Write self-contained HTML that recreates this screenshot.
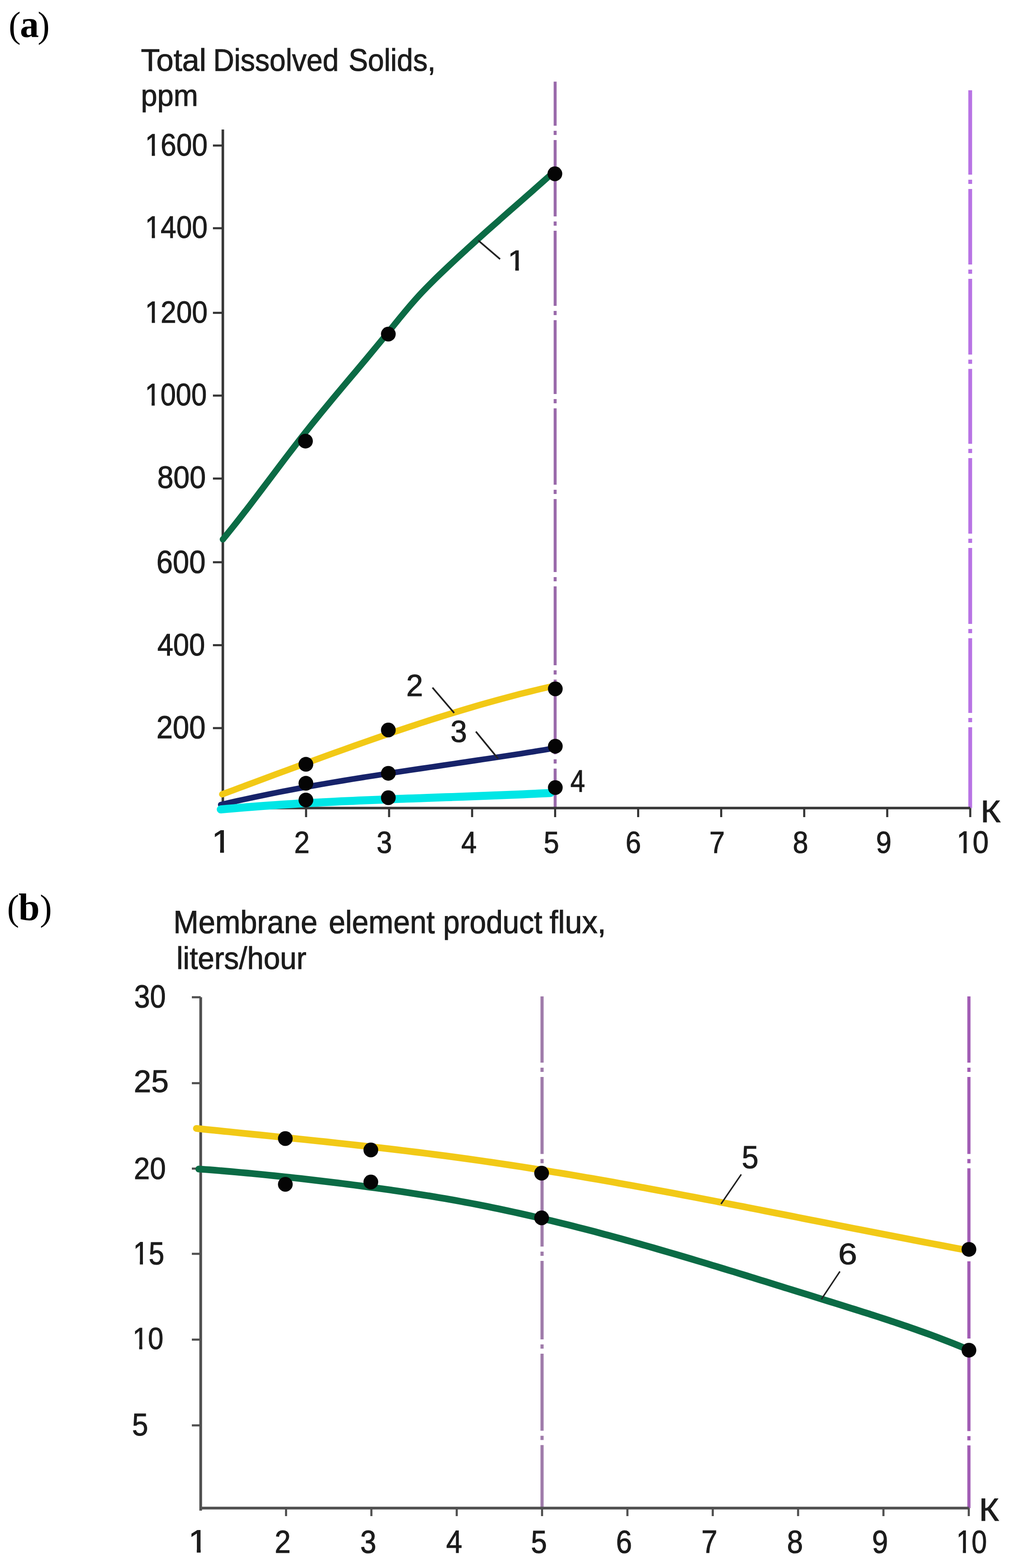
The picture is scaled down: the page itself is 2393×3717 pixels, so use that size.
<!DOCTYPE html>
<html><head><meta charset="utf-8"><title>Figure</title>
<style>html,body{margin:0;padding:0;background:#fff;} svg{display:block;}</style>
</head><body>
<svg width="2393" height="3717" viewBox="0 0 2393 3717">
<rect width="2393" height="3717" fill="#ffffff"/>
<text font-family='"Liberation Serif", "Times New Roman", serif' fill="#000"><tspan x="20.46" y="87.54" font-size="86.00" font-weight="normal">(</tspan><tspan x="47.20" y="88.10" font-size="90.00" font-weight="bold">a</tspan><tspan x="89.32" y="87.54" font-size="86.00" font-weight="normal">)</tspan></text>
<g transform="translate(334.13,168.20) scale(0.9815,1)"><text font-family='"Liberation Sans", Arial, sans-serif' font-weight="normal" font-size="74.78" fill="#1c1c1c" stroke="#1c1c1c" stroke-width="1.2">Total</text></g>
<g transform="translate(505.71,168.20) scale(0.9185,1)"><text font-family='"Liberation Sans", Arial, sans-serif' font-weight="normal" font-size="74.78" fill="#1c1c1c" stroke="#1c1c1c" stroke-width="1.2">Dissolved</text></g>
<g transform="translate(826.66,168.20) scale(0.9201,1)"><text font-family='"Liberation Sans", Arial, sans-serif' font-weight="normal" font-size="74.78" fill="#1c1c1c" stroke="#1c1c1c" stroke-width="1.2">Solids,</text></g>
<g transform="translate(334.33,251.00) scale(0.9702,1)"><text font-family='"Liberation Sans", Arial, sans-serif' font-weight="normal" font-size="71.70" fill="#1c1c1c" stroke="#1c1c1c" stroke-width="1.2">ppm</text></g>
<rect x="1313.1" y="193.5" width="7" height="104.5" fill="#9a6aab"/>
<rect x="1313.1" y="310.0" width="7" height="10.0" fill="#9a6aab"/>
<rect x="1313.1" y="332.0" width="7" height="181.0" fill="#9a6aab"/>
<rect x="1313.1" y="525.0" width="7" height="10.0" fill="#9a6aab"/>
<rect x="1313.1" y="547.0" width="7" height="178.0" fill="#9a6aab"/>
<rect x="1313.1" y="737.0" width="7" height="10.0" fill="#9a6aab"/>
<rect x="1313.1" y="759.0" width="7" height="175.0" fill="#9a6aab"/>
<rect x="1313.1" y="946.0" width="7" height="10.0" fill="#9a6aab"/>
<rect x="1313.1" y="968.0" width="7" height="181.0" fill="#9a6aab"/>
<rect x="1313.1" y="1161.0" width="7" height="10.0" fill="#9a6aab"/>
<rect x="1313.1" y="1183.0" width="7" height="173.0" fill="#9a6aab"/>
<rect x="1313.1" y="1368.0" width="7" height="10.0" fill="#9a6aab"/>
<rect x="1313.1" y="1390.0" width="7" height="187.0" fill="#9a6aab"/>
<rect x="1313.1" y="1589.0" width="7" height="10.0" fill="#9a6aab"/>
<rect x="1313.1" y="1611.0" width="7" height="177.0" fill="#9a6aab"/>
<rect x="1313.1" y="1800.0" width="7" height="10.0" fill="#9a6aab"/>
<rect x="1313.1" y="1822.0" width="7" height="93.5" fill="#9a6aab"/>
<rect x="2296.5" y="214.0" width="9" height="200.0" fill="#b873e4"/>
<rect x="2296.5" y="426.0" width="9" height="10.0" fill="#b873e4"/>
<rect x="2296.5" y="448.0" width="9" height="179.0" fill="#b873e4"/>
<rect x="2296.5" y="639.0" width="9" height="10.0" fill="#b873e4"/>
<rect x="2296.5" y="661.0" width="9" height="179.5" fill="#b873e4"/>
<rect x="2296.5" y="852.5" width="9" height="10.0" fill="#b873e4"/>
<rect x="2296.5" y="874.5" width="9" height="177.5" fill="#b873e4"/>
<rect x="2296.5" y="1064.0" width="9" height="10.0" fill="#b873e4"/>
<rect x="2296.5" y="1086.0" width="9" height="179.0" fill="#b873e4"/>
<rect x="2296.5" y="1277.0" width="9" height="10.0" fill="#b873e4"/>
<rect x="2296.5" y="1299.0" width="9" height="180.0" fill="#b873e4"/>
<rect x="2296.5" y="1491.0" width="9" height="10.0" fill="#b873e4"/>
<rect x="2296.5" y="1513.0" width="9" height="177.0" fill="#b873e4"/>
<rect x="2296.5" y="1702.0" width="9" height="10.0" fill="#b873e4"/>
<rect x="2296.5" y="1724.0" width="9" height="191.5" fill="#b873e4"/>
<line x1="528.5" y1="307" x2="528.5" y2="1918.5" stroke="#363636" stroke-width="6"/>
<line x1="525.5" y1="1915.5" x2="2301" y2="1915.5" stroke="#363636" stroke-width="6"/>
<line x1="505" y1="345" x2="528.5" y2="345" stroke="#363636" stroke-width="5"/>
<line x1="505" y1="541" x2="528.5" y2="541" stroke="#363636" stroke-width="5"/>
<line x1="505" y1="741.6" x2="528.5" y2="741.6" stroke="#363636" stroke-width="5"/>
<line x1="505" y1="937.8" x2="528.5" y2="937.8" stroke="#363636" stroke-width="5"/>
<line x1="505" y1="1134.4" x2="528.5" y2="1134.4" stroke="#363636" stroke-width="5"/>
<line x1="505" y1="1332.8" x2="528.5" y2="1332.8" stroke="#363636" stroke-width="5"/>
<line x1="505" y1="1529.4" x2="528.5" y2="1529.4" stroke="#363636" stroke-width="5"/>
<line x1="505" y1="1726" x2="528.5" y2="1726" stroke="#363636" stroke-width="5"/>
<g transform="translate(344.03,369.00) scale(0.8972,1)"><text font-family='"Liberation Sans", Arial, sans-serif' font-weight="normal" font-size="74.29" fill="#1c1c1c" stroke="#1c1c1c" stroke-width="1.2">1600</text><rect x="3.70" y="-7.94" width="14.05" height="9.74" fill="#fff"/><rect x="26.08" y="-7.94" width="13.45" height="9.74" fill="#fff"/></g>
<g transform="translate(344.03,564.30) scale(0.9095,1)"><text font-family='"Liberation Sans", Arial, sans-serif' font-weight="normal" font-size="73.29" fill="#1c1c1c" stroke="#1c1c1c" stroke-width="1.2">1400</text><rect x="3.63" y="-7.86" width="13.86" height="9.66" fill="#fff"/><rect x="25.74" y="-7.86" width="13.28" height="9.66" fill="#fff"/></g>
<g transform="translate(344.03,765.00) scale(0.9202,1)"><text font-family='"Liberation Sans", Arial, sans-serif' font-weight="normal" font-size="72.43" fill="#1c1c1c" stroke="#1c1c1c" stroke-width="1.2">1200</text><rect x="3.57" y="-7.79" width="13.71" height="9.59" fill="#fff"/><rect x="25.45" y="-7.79" width="13.13" height="9.59" fill="#fff"/></g>
<g transform="translate(343.82,960.50) scale(0.8880,1)"><text font-family='"Liberation Sans", Arial, sans-serif' font-weight="normal" font-size="74.14" fill="#1c1c1c" stroke="#1c1c1c" stroke-width="1.2">1000</text><rect x="3.69" y="-7.93" width="14.02" height="9.73" fill="#fff"/><rect x="26.03" y="-7.93" width="13.43" height="9.73" fill="#fff"/></g>
<g transform="translate(372.94,1156.60) scale(0.9314,1)"><text font-family='"Liberation Sans", Arial, sans-serif' font-weight="normal" font-size="74.14" fill="#1c1c1c" stroke="#1c1c1c" stroke-width="1.2">800</text></g>
<g transform="translate(371.01,1358.00) scale(0.9264,1)"><text font-family='"Liberation Sans", Arial, sans-serif' font-weight="normal" font-size="75.43" fill="#1c1c1c" stroke="#1c1c1c" stroke-width="1.2">600</text></g>
<g transform="translate(373.14,1553.50) scale(0.9183,1)"><text font-family='"Liberation Sans", Arial, sans-serif' font-weight="normal" font-size="73.86" fill="#1c1c1c" stroke="#1c1c1c" stroke-width="1.2">400</text></g>
<g transform="translate(371.01,1750.00) scale(0.9264,1)"><text font-family='"Liberation Sans", Arial, sans-serif' font-weight="normal" font-size="75.43" fill="#1c1c1c" stroke="#1c1c1c" stroke-width="1.2">200</text></g>
<line x1="725.9" y1="1915.5" x2="725.9" y2="1937" stroke="#363636" stroke-width="5"/>
<line x1="922.8" y1="1915.5" x2="922.8" y2="1937" stroke="#363636" stroke-width="5"/>
<line x1="1119.7" y1="1915.5" x2="1119.7" y2="1937" stroke="#363636" stroke-width="5"/>
<line x1="1316.6" y1="1915.5" x2="1316.6" y2="1937" stroke="#363636" stroke-width="5"/>
<line x1="1513.5" y1="1915.5" x2="1513.5" y2="1937" stroke="#363636" stroke-width="5"/>
<line x1="1710.4" y1="1915.5" x2="1710.4" y2="1937" stroke="#363636" stroke-width="5"/>
<line x1="1907.3" y1="1915.5" x2="1907.3" y2="1937" stroke="#363636" stroke-width="5"/>
<line x1="2104.2" y1="1915.5" x2="2104.2" y2="1937" stroke="#363636" stroke-width="5"/>
<line x1="2301.1000000000004" y1="1915.5" x2="2301.1000000000004" y2="1937" stroke="#363636" stroke-width="5"/>
<g transform="translate(502.22,2021.30) scale(1.0800,1)"><text font-family='"Liberation Sans", Arial, sans-serif' font-weight="normal" font-size="76.52" fill="#1c1c1c" stroke="#1c1c1c" stroke-width="1.2">1</text><rect x="3.86" y="-8.12" width="14.45" height="9.92" fill="#fff"/><rect x="26.84" y="-8.12" width="13.84" height="9.92" fill="#fff"/></g>
<g transform="translate(697.72,2021.50) scale(0.9000,1)"><text font-family='"Liberation Sans", Arial, sans-serif' font-weight="normal" font-size="72.86" fill="#1c1c1c" stroke="#1c1c1c" stroke-width="1.2">2</text></g>
<g transform="translate(893.18,2021.50) scale(0.9000,1)"><text font-family='"Liberation Sans", Arial, sans-serif' font-weight="normal" font-size="72.86" fill="#1c1c1c" stroke="#1c1c1c" stroke-width="1.2">3</text></g>
<g transform="translate(1094.09,2021.50) scale(0.9000,1)"><text font-family='"Liberation Sans", Arial, sans-serif' font-weight="normal" font-size="72.86" fill="#1c1c1c" stroke="#1c1c1c" stroke-width="1.2">4</text></g>
<g transform="translate(1289.38,2021.50) scale(0.9000,1)"><text font-family='"Liberation Sans", Arial, sans-serif' font-weight="normal" font-size="72.86" fill="#1c1c1c" stroke="#1c1c1c" stroke-width="1.2">5</text></g>
<g transform="translate(1483.72,2021.50) scale(0.9000,1)"><text font-family='"Liberation Sans", Arial, sans-serif' font-weight="normal" font-size="72.86" fill="#1c1c1c" stroke="#1c1c1c" stroke-width="1.2">6</text></g>
<g transform="translate(1682.62,2021.50) scale(0.9000,1)"><text font-family='"Liberation Sans", Arial, sans-serif' font-weight="normal" font-size="72.86" fill="#1c1c1c" stroke="#1c1c1c" stroke-width="1.2">7</text></g>
<g transform="translate(1880.18,2021.50) scale(0.9000,1)"><text font-family='"Liberation Sans", Arial, sans-serif' font-weight="normal" font-size="72.86" fill="#1c1c1c" stroke="#1c1c1c" stroke-width="1.2">8</text></g>
<g transform="translate(2077.72,2021.50) scale(0.9000,1)"><text font-family='"Liberation Sans", Arial, sans-serif' font-weight="normal" font-size="72.86" fill="#1c1c1c" stroke="#1c1c1c" stroke-width="1.2">9</text></g>
<g transform="translate(2268.66,2021.50) scale(0.9203,1)"><text font-family='"Liberation Sans", Arial, sans-serif' font-weight="normal" font-size="74.29" fill="#1c1c1c" stroke="#1c1c1c" stroke-width="1.2">10</text><rect x="3.70" y="-7.94" width="14.05" height="9.74" fill="#fff"/><rect x="26.08" y="-7.94" width="13.45" height="9.74" fill="#fff"/></g>
<g transform="translate(2325.47,1948.50) scale(1.0937,1)"><text font-family='"Liberation Sans", Arial, sans-serif' font-weight="normal" font-size="74.64" fill="#1c1c1c" stroke="#1c1c1c" stroke-width="1.2">К</text></g>
<path d="M528.6,1278.6 C533.0,1273.2 546.1,1257.2 554.8,1246.2 C563.6,1235.2 572.3,1224.0 581.0,1212.7 C589.8,1201.4 598.5,1189.9 607.2,1178.4 C616.0,1166.9 624.7,1155.3 633.5,1143.8 C642.2,1132.2 650.9,1120.6 659.7,1109.0 C668.4,1097.5 677.1,1085.9 685.9,1074.5 C694.6,1063.1 703.4,1051.7 712.1,1040.5 C720.8,1029.4 729.6,1018.3 738.3,1007.4 C747.0,996.5 755.8,985.8 764.5,975.2 C773.3,964.5 782.0,954.0 790.7,943.5 C799.5,933.0 808.2,922.6 816.9,912.2 C825.7,901.8 834.4,891.5 843.2,881.1 C851.9,870.7 860.6,860.3 869.4,849.9 C878.1,839.4 886.8,828.9 895.6,818.3 C904.3,807.8 913.1,797.0 921.8,786.3 C930.5,775.6 939.3,764.5 948.0,753.9 C956.8,743.3 965.5,732.7 974.2,722.6 C983.0,712.5 991.7,702.7 1000.4,693.4 C1009.2,684.0 1017.9,675.3 1026.7,666.6 C1035.4,657.9 1044.1,649.6 1052.9,641.3 C1061.6,633.0 1070.3,624.8 1079.1,616.6 C1087.8,608.5 1096.6,600.4 1105.3,592.4 C1114.0,584.4 1122.8,576.5 1131.5,568.6 C1140.2,560.8 1149.0,553.0 1157.7,545.2 C1166.5,537.4 1175.2,529.7 1183.9,522.0 C1192.7,514.2 1201.4,506.6 1210.1,498.9 C1218.9,491.2 1227.6,483.5 1236.4,475.9 C1245.1,468.2 1253.8,460.5 1262.6,452.8 C1271.3,445.1 1280.0,437.4 1288.8,429.7 C1297.5,421.9 1310.6,410.2 1315.0,406.3" fill="none" stroke="#0b6b45" stroke-width="15" stroke-linecap="round" stroke-linejoin="round"/>
<path d="M527.0,1882.9 C531.4,1881.2 544.4,1876.4 553.1,1873.2 C561.8,1869.9 570.5,1866.7 579.2,1863.4 C587.9,1860.2 596.6,1857.0 605.3,1853.7 C614.0,1850.5 622.7,1847.3 631.4,1844.0 C640.1,1840.8 648.8,1837.6 657.5,1834.3 C666.2,1831.1 674.9,1827.9 683.6,1824.7 C692.3,1821.5 701.0,1818.3 709.7,1815.1 C718.4,1811.9 727.1,1808.7 735.8,1805.5 C744.5,1802.3 753.2,1799.1 761.9,1796.0 C770.6,1792.8 779.3,1789.7 788.0,1786.5 C796.7,1783.4 805.4,1780.3 814.1,1777.2 C822.8,1774.1 831.5,1771.0 840.2,1767.9 C848.9,1764.8 857.6,1761.7 866.3,1758.7 C875.0,1755.6 883.7,1752.6 892.4,1749.6 C901.1,1746.6 909.8,1743.6 918.5,1740.6 C927.2,1737.7 935.9,1734.7 944.6,1731.8 C953.3,1728.9 962.0,1726.0 970.7,1723.1 C979.4,1720.2 988.1,1717.4 996.8,1714.5 C1005.5,1711.7 1014.2,1708.9 1022.9,1706.1 C1031.6,1703.4 1040.3,1700.6 1049.0,1697.9 C1057.7,1695.2 1066.4,1692.5 1075.1,1689.8 C1083.8,1687.2 1092.5,1684.6 1101.2,1682.0 C1109.9,1679.4 1118.6,1676.8 1127.3,1674.3 C1136.0,1671.7 1144.7,1669.2 1153.4,1666.8 C1162.1,1664.3 1170.8,1661.9 1179.5,1659.5 C1188.2,1657.1 1196.9,1654.8 1205.6,1652.5 C1214.3,1650.2 1223.0,1647.9 1231.7,1645.6 C1240.4,1643.4 1249.1,1641.2 1257.8,1639.1 C1266.5,1636.9 1275.2,1634.8 1283.9,1632.7 C1292.6,1630.7 1305.7,1627.7 1310.0,1626.7" fill="none" stroke="#f2c916" stroke-width="15" stroke-linecap="round" stroke-linejoin="round"/>
<path d="M523.6,1907.6 C528.0,1906.5 541.2,1903.4 550.0,1901.4 C558.8,1899.4 567.6,1897.5 576.4,1895.5 C585.2,1893.6 594.0,1891.7 602.8,1889.8 C611.6,1888.0 620.4,1886.1 629.3,1884.3 C638.1,1882.5 646.9,1880.8 655.7,1879.0 C664.5,1877.3 673.3,1875.6 682.1,1873.9 C690.9,1872.2 699.7,1870.6 708.5,1868.9 C717.3,1867.3 726.1,1865.7 734.9,1864.1 C743.7,1862.5 752.5,1861.0 761.3,1859.4 C770.1,1857.9 778.9,1856.4 787.7,1854.9 C796.5,1853.4 805.3,1851.9 814.1,1850.5 C823.0,1849.0 831.8,1847.6 840.6,1846.1 C849.4,1844.7 858.2,1843.3 867.0,1841.9 C875.8,1840.5 884.6,1839.1 893.4,1837.8 C902.2,1836.4 911.0,1835.0 919.8,1833.7 C928.6,1832.3 937.4,1831.0 946.2,1829.7 C955.0,1828.3 963.8,1827.0 972.6,1825.7 C981.4,1824.4 990.2,1823.1 999.0,1821.8 C1007.8,1820.5 1016.6,1819.2 1025.5,1817.9 C1034.3,1816.6 1043.1,1815.3 1051.9,1814.0 C1060.7,1812.7 1069.5,1811.4 1078.3,1810.1 C1087.1,1808.8 1095.9,1807.5 1104.7,1806.2 C1113.5,1804.9 1122.3,1803.6 1131.1,1802.3 C1139.9,1801.0 1148.7,1799.7 1157.5,1798.4 C1166.3,1797.1 1175.1,1795.7 1183.9,1794.4 C1192.7,1793.1 1201.5,1791.7 1210.3,1790.4 C1219.2,1789.0 1228.0,1787.6 1236.8,1786.3 C1245.6,1784.9 1254.4,1783.5 1263.2,1782.1 C1272.0,1780.7 1280.8,1779.2 1289.6,1777.8 C1298.4,1776.4 1311.6,1774.2 1316.0,1773.4" fill="none" stroke="#17236a" stroke-width="13.5" stroke-linecap="round" stroke-linejoin="round"/>
<path d="M523.6,1918.8 C527.9,1918.4 541.0,1917.2 549.7,1916.5 C558.4,1915.7 567.1,1915.0 575.8,1914.3 C584.5,1913.6 593.1,1912.9 601.8,1912.2 C610.5,1911.5 619.2,1910.9 627.9,1910.3 C636.6,1909.6 645.3,1909.0 654.0,1908.4 C662.7,1907.8 671.4,1907.3 680.1,1906.7 C688.8,1906.2 697.5,1905.6 706.2,1905.1 C714.9,1904.6 723.5,1904.1 732.2,1903.6 C740.9,1903.1 749.6,1902.7 758.3,1902.2 C767.0,1901.7 775.7,1901.3 784.4,1900.9 C793.1,1900.4 801.8,1900.0 810.5,1899.6 C819.2,1899.2 827.9,1898.8 836.6,1898.4 C845.3,1898.0 853.9,1897.6 862.6,1897.3 C871.3,1896.9 880.0,1896.5 888.7,1896.2 C897.4,1895.8 906.1,1895.5 914.8,1895.1 C923.5,1894.8 932.2,1894.5 940.9,1894.1 C949.6,1893.8 958.3,1893.5 967.0,1893.1 C975.7,1892.8 984.3,1892.5 993.0,1892.2 C1001.7,1891.9 1010.4,1891.6 1019.1,1891.3 C1027.8,1890.9 1036.5,1890.6 1045.2,1890.3 C1053.9,1890.0 1062.6,1889.7 1071.3,1889.4 C1080.0,1889.1 1088.7,1888.8 1097.4,1888.5 C1106.1,1888.2 1114.7,1887.8 1123.4,1887.5 C1132.1,1887.2 1140.8,1886.9 1149.5,1886.5 C1158.2,1886.2 1166.9,1885.9 1175.6,1885.5 C1184.3,1885.2 1193.0,1884.9 1201.7,1884.5 C1210.4,1884.2 1219.1,1883.8 1227.8,1883.4 C1236.5,1883.1 1245.1,1882.7 1253.8,1882.3 C1262.5,1881.9 1271.2,1881.5 1279.9,1881.1 C1288.6,1880.7 1301.7,1880.1 1306.0,1879.8" fill="none" stroke="#00e6e6" stroke-width="19" stroke-linecap="round" stroke-linejoin="round"/>
<circle cx="724.5" cy="1045.7" r="17.5" fill="#050505"/>
<circle cx="921" cy="792" r="17.5" fill="#050505"/>
<circle cx="1316" cy="412" r="17.5" fill="#050505"/>
<circle cx="725.5" cy="1811.8" r="17.5" fill="#050505"/>
<circle cx="921" cy="1730.5" r="17.5" fill="#050505"/>
<circle cx="1317" cy="1633" r="17.5" fill="#050505"/>
<circle cx="725.5" cy="1856.8" r="17.5" fill="#050505"/>
<circle cx="921" cy="1833.2" r="17.5" fill="#050505"/>
<circle cx="1317" cy="1769" r="17.5" fill="#050505"/>
<circle cx="725.5" cy="1896.4" r="17.5" fill="#050505"/>
<circle cx="921" cy="1891" r="17.5" fill="#050505"/>
<circle cx="1317" cy="1867" r="17.5" fill="#050505"/>
<line x1="1134.3" y1="570" x2="1186" y2="614.3" stroke="#222" stroke-width="4"/>
<g transform="translate(1204.27,640.60) scale(1.0800,1)"><text font-family='"Liberation Sans", Arial, sans-serif' font-weight="normal" font-size="69.13" fill="#1c1c1c" stroke="#1c1c1c" stroke-width="1.2">1</text><rect x="3.34" y="-7.53" width="13.11" height="9.33" fill="#fff"/><rect x="24.34" y="-7.53" width="12.56" height="9.33" fill="#fff"/></g>
<line x1="1025.7" y1="1630" x2="1077.1" y2="1690" stroke="#222" stroke-width="4"/>
<g transform="translate(963.52,1650.00) scale(1.0013,1)"><text font-family='"Liberation Sans", Arial, sans-serif' font-weight="normal" font-size="71.43" fill="#1c1c1c" stroke="#1c1c1c" stroke-width="1.2">2</text></g>
<line x1="1128.6" y1="1734.3" x2="1181.4" y2="1798.6" stroke="#222" stroke-width="4"/>
<g transform="translate(1068.60,1758.60) scale(0.9800,1)"><text font-family='"Liberation Sans", Arial, sans-serif' font-weight="normal" font-size="71.43" fill="#1c1c1c" stroke="#1c1c1c" stroke-width="1.2">3</text></g>
<g transform="translate(1352.75,1876.90) scale(0.8539,1)"><text font-family='"Liberation Sans", Arial, sans-serif' font-weight="normal" font-size="73.48" fill="#1c1c1c" stroke="#1c1c1c" stroke-width="1.2">4</text></g>
<text font-family='"Liberation Serif", "Times New Roman", serif' fill="#000"><tspan x="16.86" y="2180.64" font-size="86.00" font-weight="normal">(</tspan><tspan x="43.79" y="2181.19" font-size="90.57" font-weight="bold">b</tspan><tspan x="94.52" y="2180.64" font-size="86.00" font-weight="normal">)</tspan></text>
<g transform="translate(411.18,2212.30) scale(0.9506,1)"><text font-family='"Liberation Sans", Arial, sans-serif' font-weight="normal" font-size="75.22" fill="#1c1c1c" stroke="#1c1c1c" stroke-width="1.2">Membrane</text></g>
<g transform="translate(779.77,2212.30) scale(0.9393,1)"><text font-family='"Liberation Sans", Arial, sans-serif' font-weight="normal" font-size="75.22" fill="#1c1c1c" stroke="#1c1c1c" stroke-width="1.2">element</text></g>
<g transform="translate(1051.07,2212.30) scale(0.9367,1)"><text font-family='"Liberation Sans", Arial, sans-serif' font-weight="normal" font-size="75.22" fill="#1c1c1c" stroke="#1c1c1c" stroke-width="1.2">product</text></g>
<g transform="translate(1303.17,2212.30) scale(0.9727,1)"><text font-family='"Liberation Sans", Arial, sans-serif' font-weight="normal" font-size="75.22" fill="#1c1c1c" stroke="#1c1c1c" stroke-width="1.2">flux,</text></g>
<g transform="translate(418.49,2296.80) scale(0.9536,1)"><text font-family='"Liberation Sans", Arial, sans-serif' font-weight="normal" font-size="73.62" fill="#1c1c1c" stroke="#1c1c1c" stroke-width="1.2">liters/hour</text></g>
<rect x="1281.8" y="2362.0" width="7.5" height="157.0" fill="#a07cab"/>
<rect x="1281.8" y="2531.0" width="7.5" height="10.0" fill="#a07cab"/>
<rect x="1281.8" y="2553.0" width="7.5" height="182.5" fill="#a07cab"/>
<rect x="1281.8" y="2747.5" width="7.5" height="10.0" fill="#a07cab"/>
<rect x="1281.8" y="2769.5" width="7.5" height="185.5" fill="#a07cab"/>
<rect x="1281.8" y="2967.0" width="7.5" height="10.0" fill="#a07cab"/>
<rect x="1281.8" y="2989.0" width="7.5" height="186.0" fill="#a07cab"/>
<rect x="1281.8" y="3187.0" width="7.5" height="10.0" fill="#a07cab"/>
<rect x="1281.8" y="3209.0" width="7.5" height="182.6" fill="#a07cab"/>
<rect x="1281.8" y="3403.6" width="7.5" height="10.0" fill="#a07cab"/>
<rect x="1281.8" y="3425.6" width="7.5" height="149.4" fill="#a07cab"/>
<rect x="2294.2" y="2362.0" width="7.5" height="157.0" fill="#a15cb4"/>
<rect x="2294.2" y="2531.0" width="7.5" height="10.0" fill="#a15cb4"/>
<rect x="2294.2" y="2553.0" width="7.5" height="182.5" fill="#a15cb4"/>
<rect x="2294.2" y="2747.5" width="7.5" height="10.0" fill="#a15cb4"/>
<rect x="2294.2" y="2769.5" width="7.5" height="186.5" fill="#a15cb4"/>
<rect x="2294.2" y="2968.0" width="7.5" height="10.0" fill="#a15cb4"/>
<rect x="2294.2" y="2990.0" width="7.5" height="183.0" fill="#a15cb4"/>
<rect x="2294.2" y="3185.0" width="7.5" height="10.0" fill="#a15cb4"/>
<rect x="2294.2" y="3207.0" width="7.5" height="185.4" fill="#a15cb4"/>
<rect x="2294.2" y="3404.4" width="7.5" height="10.0" fill="#a15cb4"/>
<rect x="2294.2" y="3426.4" width="7.5" height="148.6" fill="#a15cb4"/>
<line x1="476" y1="2364" x2="476" y2="3581" stroke="#505050" stroke-width="6.5"/>
<line x1="473" y1="3575" x2="2298" y2="3575" stroke="#505050" stroke-width="6.5"/>
<line x1="455" y1="2364" x2="476" y2="2364" stroke="#505050" stroke-width="5"/>
<line x1="455" y1="2567.7" x2="476" y2="2567.7" stroke="#505050" stroke-width="5"/>
<line x1="455" y1="2770.2" x2="476" y2="2770.2" stroke="#505050" stroke-width="5"/>
<line x1="455" y1="2972.2" x2="476" y2="2972.2" stroke="#505050" stroke-width="5"/>
<line x1="455" y1="3175.6" x2="476" y2="3175.6" stroke="#505050" stroke-width="5"/>
<line x1="455" y1="3378.9" x2="476" y2="3378.9" stroke="#505050" stroke-width="5"/>
<g transform="translate(318.31,2388.40) scale(0.8957,1)"><text font-family='"Liberation Sans", Arial, sans-serif' font-weight="normal" font-size="75.14" fill="#1c1c1c" stroke="#1c1c1c" stroke-width="1.2">30</text></g>
<g transform="translate(317.28,2589.00) scale(0.9922,1)"><text font-family='"Liberation Sans", Arial, sans-serif' font-weight="normal" font-size="75.00" fill="#1c1c1c" stroke="#1c1c1c" stroke-width="1.2">25</text></g>
<g transform="translate(317.59,2795.10) scale(0.9318,1)"><text font-family='"Liberation Sans", Arial, sans-serif' font-weight="normal" font-size="73.14" fill="#1c1c1c" stroke="#1c1c1c" stroke-width="1.2">20</text></g>
<g transform="translate(315.76,2997.00) scale(0.8835,1)"><text font-family='"Liberation Sans", Arial, sans-serif' font-weight="normal" font-size="75.14" fill="#1c1c1c" stroke="#1c1c1c" stroke-width="1.2">15</text><rect x="3.76" y="-8.01" width="14.20" height="9.81" fill="#fff"/><rect x="26.37" y="-8.01" width="13.60" height="9.81" fill="#fff"/></g>
<g transform="translate(314.43,3197.50) scale(0.8984,1)"><text font-family='"Liberation Sans", Arial, sans-serif' font-weight="normal" font-size="73.14" fill="#1c1c1c" stroke="#1c1c1c" stroke-width="1.2">10</text><rect x="3.62" y="-7.85" width="13.84" height="9.65" fill="#fff"/><rect x="25.70" y="-7.85" width="13.25" height="9.65" fill="#fff"/></g>
<g transform="translate(313.26,3403.30) scale(0.9170,1)"><text font-family='"Liberation Sans", Arial, sans-serif' font-weight="normal" font-size="74.71" fill="#1c1c1c" stroke="#1c1c1c" stroke-width="1.2">5</text></g>
<line x1="678.4" y1="3575" x2="678.4" y2="3594" stroke="#505050" stroke-width="5"/>
<line x1="880.8" y1="3575" x2="880.8" y2="3594" stroke="#505050" stroke-width="5"/>
<line x1="1083.2" y1="3575" x2="1083.2" y2="3594" stroke="#505050" stroke-width="5"/>
<line x1="1285.6" y1="3575" x2="1285.6" y2="3594" stroke="#505050" stroke-width="5"/>
<line x1="1488.0" y1="3575" x2="1488.0" y2="3594" stroke="#505050" stroke-width="5"/>
<line x1="1690.4" y1="3575" x2="1690.4" y2="3594" stroke="#505050" stroke-width="5"/>
<line x1="1892.8" y1="3575" x2="1892.8" y2="3594" stroke="#505050" stroke-width="5"/>
<line x1="2095.2" y1="3575" x2="2095.2" y2="3594" stroke="#505050" stroke-width="5"/>
<line x1="2297.6000000000004" y1="3575" x2="2297.6000000000004" y2="3594" stroke="#505050" stroke-width="5"/>
<g transform="translate(446.85,3679.80) scale(1.0800,1)"><text font-family='"Liberation Sans", Arial, sans-serif' font-weight="normal" font-size="76.81" fill="#1c1c1c" stroke="#1c1c1c" stroke-width="1.2">1</text><rect x="3.88" y="-8.14" width="14.50" height="9.94" fill="#fff"/><rect x="26.94" y="-8.14" width="13.89" height="9.94" fill="#fff"/></g>
<g transform="translate(651.49,3680.50) scale(0.9000,1)"><text font-family='"Liberation Sans", Arial, sans-serif' font-weight="normal" font-size="75.71" fill="#1c1c1c" stroke="#1c1c1c" stroke-width="1.2">2</text></g>
<g transform="translate(854.57,3680.50) scale(0.9000,1)"><text font-family='"Liberation Sans", Arial, sans-serif' font-weight="normal" font-size="75.71" fill="#1c1c1c" stroke="#1c1c1c" stroke-width="1.2">3</text></g>
<g transform="translate(1058.34,3680.50) scale(0.9000,1)"><text font-family='"Liberation Sans", Arial, sans-serif' font-weight="normal" font-size="75.71" fill="#1c1c1c" stroke="#1c1c1c" stroke-width="1.2">4</text></g>
<g transform="translate(1259.37,3680.50) scale(0.9000,1)"><text font-family='"Liberation Sans", Arial, sans-serif' font-weight="normal" font-size="75.71" fill="#1c1c1c" stroke="#1c1c1c" stroke-width="1.2">5</text></g>
<g transform="translate(1461.09,3680.50) scale(0.9000,1)"><text font-family='"Liberation Sans", Arial, sans-serif' font-weight="normal" font-size="75.71" fill="#1c1c1c" stroke="#1c1c1c" stroke-width="1.2">6</text></g>
<g transform="translate(1663.49,3680.50) scale(0.9000,1)"><text font-family='"Liberation Sans", Arial, sans-serif' font-weight="normal" font-size="75.71" fill="#1c1c1c" stroke="#1c1c1c" stroke-width="1.2">7</text></g>
<g transform="translate(1866.57,3680.50) scale(0.9000,1)"><text font-family='"Liberation Sans", Arial, sans-serif' font-weight="normal" font-size="75.71" fill="#1c1c1c" stroke="#1c1c1c" stroke-width="1.2">8</text></g>
<g transform="translate(2068.29,3680.50) scale(0.9000,1)"><text font-family='"Liberation Sans", Arial, sans-serif' font-weight="normal" font-size="75.71" fill="#1c1c1c" stroke="#1c1c1c" stroke-width="1.2">9</text></g>
<g transform="translate(2267.97,3680.50) scale(0.8642,1)"><text font-family='"Liberation Sans", Arial, sans-serif' font-weight="normal" font-size="75.57" fill="#1c1c1c" stroke="#1c1c1c" stroke-width="1.2">10</text><rect x="3.79" y="-8.05" width="14.28" height="9.85" fill="#fff"/><rect x="26.52" y="-8.05" width="13.67" height="9.85" fill="#fff"/></g>
<g transform="translate(2321.87,3605.30) scale(1.0668,1)"><text font-family='"Liberation Sans", Arial, sans-serif' font-weight="normal" font-size="76.52" fill="#1c1c1c" stroke="#1c1c1c" stroke-width="1.2">К</text></g>
<path d="M465.7,2675.0 C470.0,2675.5 482.8,2676.8 491.4,2677.7 C500.0,2678.6 508.5,2679.4 517.1,2680.3 C525.7,2681.2 534.2,2682.1 542.8,2682.9 C551.3,2683.8 559.9,2684.7 568.5,2685.6 C577.0,2686.4 585.6,2687.3 594.2,2688.2 C602.7,2689.0 611.3,2689.9 619.9,2690.8 C628.4,2691.7 637.0,2692.5 645.6,2693.4 C654.1,2694.3 662.7,2695.2 671.3,2696.1 C679.8,2696.9 688.4,2697.8 696.9,2698.7 C705.5,2699.6 714.1,2700.5 722.6,2701.4 C731.2,2702.3 739.8,2703.2 748.3,2704.1 C756.9,2705.0 765.5,2705.9 774.0,2706.8 C782.6,2707.7 791.2,2708.6 799.7,2709.6 C808.3,2710.5 816.9,2711.4 825.4,2712.4 C834.0,2713.3 842.6,2714.3 851.1,2715.2 C859.7,2716.2 868.2,2717.1 876.8,2718.1 C885.4,2719.1 893.9,2720.1 902.5,2721.0 C911.1,2722.0 919.6,2723.0 928.2,2724.0 C936.8,2725.0 945.3,2726.1 953.9,2727.1 C962.5,2728.1 971.0,2729.2 979.6,2730.2 C988.2,2731.3 996.7,2732.3 1005.3,2733.4 C1013.8,2734.5 1022.4,2735.6 1031.0,2736.7 C1039.5,2737.8 1048.1,2738.9 1056.7,2740.0 C1065.2,2741.2 1073.8,2742.3 1082.4,2743.5 C1090.9,2744.6 1099.5,2745.8 1108.1,2747.0 C1116.6,2748.2 1125.2,2749.4 1133.8,2750.6 C1142.3,2751.8 1150.9,2753.0 1159.4,2754.3 C1168.0,2755.5 1176.6,2756.8 1185.1,2758.1 C1193.7,2759.4 1202.3,2760.7 1210.8,2762.0 C1219.4,2763.3 1228.0,2764.6 1236.5,2765.9 C1245.1,2767.3 1253.7,2768.6 1262.2,2770.0 C1270.8,2771.3 1279.4,2772.7 1287.9,2774.1 C1296.5,2775.5 1305.0,2776.9 1313.6,2778.3 C1322.2,2779.7 1330.7,2781.1 1339.3,2782.5 C1347.9,2784.0 1356.4,2785.4 1365.0,2786.9 C1373.6,2788.3 1382.1,2789.8 1390.7,2791.3 C1399.3,2792.7 1407.8,2794.2 1416.4,2795.7 C1425.0,2797.2 1433.5,2798.7 1442.1,2800.2 C1450.7,2801.7 1459.2,2803.3 1467.8,2804.8 C1476.3,2806.3 1484.9,2807.9 1493.5,2809.4 C1502.0,2811.0 1510.6,2812.5 1519.2,2814.1 C1527.7,2815.7 1536.3,2817.2 1544.9,2818.8 C1553.4,2820.4 1562.0,2822.0 1570.6,2823.6 C1579.1,2825.2 1587.7,2826.8 1596.3,2828.4 C1604.8,2830.0 1613.4,2831.6 1621.9,2833.3 C1630.5,2834.9 1639.1,2836.5 1647.6,2838.1 C1656.2,2839.8 1664.8,2841.4 1673.3,2843.1 C1681.9,2844.7 1690.5,2846.3 1699.0,2848.0 C1707.6,2849.6 1716.2,2851.3 1724.7,2853.0 C1733.3,2854.6 1741.9,2856.3 1750.4,2858.0 C1759.0,2859.6 1767.5,2861.3 1776.1,2863.0 C1784.7,2864.7 1793.2,2866.3 1801.8,2868.0 C1810.4,2869.7 1818.9,2871.4 1827.5,2873.1 C1836.1,2874.7 1844.6,2876.4 1853.2,2878.1 C1861.8,2879.8 1870.3,2881.5 1878.9,2883.2 C1887.5,2884.9 1896.0,2886.6 1904.6,2888.3 C1913.1,2890.0 1921.7,2891.7 1930.3,2893.3 C1938.8,2895.0 1947.4,2896.7 1956.0,2898.4 C1964.5,2900.1 1973.1,2901.8 1981.7,2903.5 C1990.2,2905.2 1998.8,2906.9 2007.4,2908.6 C2015.9,2910.3 2024.5,2911.9 2033.1,2913.6 C2041.6,2915.3 2050.2,2917.0 2058.8,2918.7 C2067.3,2920.4 2075.9,2922.0 2084.4,2923.7 C2093.0,2925.4 2101.6,2927.1 2110.1,2928.7 C2118.7,2930.4 2127.3,2932.1 2135.8,2933.7 C2144.4,2935.4 2153.0,2937.0 2161.5,2938.7 C2170.1,2940.3 2178.7,2942.0 2187.2,2943.6 C2195.8,2945.3 2204.4,2946.9 2212.9,2948.5 C2221.5,2950.2 2230.0,2951.8 2238.6,2953.4 C2247.2,2955.0 2255.7,2956.7 2264.3,2958.3 C2272.9,2959.9 2285.7,2962.3 2290.0,2963.1" fill="none" stroke="#f2c916" stroke-width="16" stroke-linecap="round" stroke-linejoin="round"/>
<path d="M471.4,2771.2 C475.6,2771.5 488.3,2772.4 496.8,2773.1 C505.2,2773.8 513.7,2774.4 522.1,2775.1 C530.6,2775.8 539.1,2776.6 547.5,2777.3 C556.0,2778.0 564.4,2778.8 572.9,2779.6 C581.3,2780.3 589.8,2781.1 598.2,2781.9 C606.7,2782.7 615.2,2783.6 623.6,2784.4 C632.1,2785.2 640.5,2786.1 649.0,2787.0 C657.4,2787.8 665.9,2788.7 674.4,2789.6 C682.8,2790.5 691.3,2791.5 699.7,2792.4 C708.2,2793.3 716.6,2794.3 725.1,2795.2 C733.6,2796.2 742.0,2797.2 750.5,2798.2 C758.9,2799.2 767.4,2800.2 775.8,2801.2 C784.3,2802.2 792.7,2803.3 801.2,2804.3 C809.7,2805.4 818.1,2806.4 826.6,2807.5 C835.0,2808.6 843.5,2809.7 851.9,2810.8 C860.4,2811.9 868.9,2813.0 877.3,2814.2 C885.8,2815.3 894.2,2816.5 902.7,2817.6 C911.1,2818.8 919.6,2820.0 928.0,2821.2 C936.5,2822.4 945.0,2823.7 953.4,2824.9 C961.9,2826.2 970.3,2827.5 978.8,2828.8 C987.2,2830.1 995.7,2831.4 1004.2,2832.8 C1012.6,2834.1 1021.1,2835.5 1029.5,2836.9 C1038.0,2838.3 1046.4,2839.8 1054.9,2841.2 C1063.4,2842.7 1071.8,2844.2 1080.3,2845.7 C1088.7,2847.2 1097.2,2848.8 1105.6,2850.3 C1114.1,2851.9 1122.5,2853.5 1131.0,2855.2 C1139.5,2856.8 1147.9,2858.5 1156.4,2860.2 C1164.8,2861.9 1173.3,2863.7 1181.7,2865.4 C1190.2,2867.2 1198.7,2869.0 1207.1,2870.8 C1215.6,2872.6 1224.0,2874.5 1232.5,2876.4 C1240.9,2878.3 1249.4,2880.2 1257.9,2882.1 C1266.3,2884.0 1274.8,2886.0 1283.2,2888.0 C1291.7,2890.0 1300.1,2892.0 1308.6,2894.0 C1317.0,2896.1 1325.5,2898.1 1334.0,2900.2 C1342.4,2902.3 1350.9,2904.4 1359.3,2906.6 C1367.8,2908.7 1376.2,2910.8 1384.7,2913.0 C1393.2,2915.2 1401.6,2917.4 1410.1,2919.6 C1418.5,2921.9 1427.0,2924.1 1435.4,2926.4 C1443.9,2928.6 1452.4,2930.9 1460.8,2933.2 C1469.3,2935.5 1477.7,2937.8 1486.2,2940.2 C1494.6,2942.5 1503.1,2944.9 1511.5,2947.3 C1520.0,2949.6 1528.5,2952.0 1536.9,2954.4 C1545.4,2956.8 1553.8,2959.3 1562.3,2961.7 C1570.7,2964.2 1579.2,2966.6 1587.7,2969.1 C1596.1,2971.5 1604.6,2974.0 1613.0,2976.5 C1621.5,2979.0 1629.9,2981.5 1638.4,2984.0 C1646.9,2986.6 1655.3,2989.1 1663.8,2991.6 C1672.2,2994.2 1680.7,2996.7 1689.1,2999.3 C1697.6,3001.8 1706.0,3004.4 1714.5,3007.0 C1723.0,3009.6 1731.4,3012.2 1739.9,3014.7 C1748.3,3017.3 1756.8,3019.9 1765.2,3022.5 C1773.7,3025.1 1782.2,3027.7 1790.6,3030.4 C1799.1,3033.0 1807.5,3035.6 1816.0,3038.2 C1824.4,3040.8 1832.9,3043.5 1841.3,3046.1 C1849.8,3048.7 1858.3,3051.3 1866.7,3054.0 C1875.2,3056.6 1883.6,3059.2 1892.1,3061.9 C1900.5,3064.5 1909.0,3067.1 1917.5,3069.7 C1925.9,3072.4 1934.4,3075.0 1942.8,3077.6 C1951.3,3080.2 1959.7,3082.9 1968.2,3085.5 C1976.7,3088.1 1985.1,3090.7 1993.6,3093.4 C2002.0,3096.0 2010.5,3098.6 2018.9,3101.3 C2027.4,3103.9 2035.8,3106.6 2044.3,3109.3 C2052.8,3112.0 2061.2,3114.6 2069.7,3117.4 C2078.1,3120.1 2086.6,3122.8 2095.0,3125.6 C2103.5,3128.4 2112.0,3131.1 2120.4,3134.0 C2128.9,3136.8 2137.3,3139.7 2145.8,3142.6 C2154.2,3145.4 2162.7,3148.4 2171.2,3151.4 C2179.6,3154.3 2188.1,3157.4 2196.5,3160.4 C2205.0,3163.5 2213.4,3166.6 2221.9,3169.8 C2230.3,3172.9 2238.8,3176.2 2247.3,3179.4 C2255.7,3182.7 2264.2,3186.1 2272.6,3189.5 C2281.1,3192.9 2293.8,3198.1 2298.0,3199.9" fill="none" stroke="#0b6b45" stroke-width="16" stroke-linecap="round" stroke-linejoin="round"/>
<circle cx="676.7" cy="2699" r="17.5" fill="#050505"/>
<circle cx="879.5" cy="2726" r="17.5" fill="#050505"/>
<circle cx="1284.5" cy="2781" r="17.5" fill="#050505"/>
<circle cx="2298" cy="2961.7" r="17.5" fill="#050505"/>
<circle cx="676.7" cy="2807.5" r="17.5" fill="#050505"/>
<circle cx="879.5" cy="2802" r="17.5" fill="#050505"/>
<circle cx="1284.5" cy="2887" r="17.5" fill="#050505"/>
<circle cx="2298" cy="3200.7" r="17.5" fill="#050505"/>
<line x1="1758" y1="2784" x2="1710" y2="2854" stroke="#222" stroke-width="3.5"/>
<g transform="translate(1759.15,2768.80) scale(0.9458,1)"><text font-family='"Liberation Sans", Arial, sans-serif' font-weight="normal" font-size="75.36" fill="#1c1c1c" stroke="#1c1c1c" stroke-width="1.2">5</text></g>
<line x1="1992" y1="3014" x2="1948" y2="3080" stroke="#222" stroke-width="3.5"/>
<g transform="translate(1987.98,2996.60) scale(1.1352,1)"><text font-family='"Liberation Sans", Arial, sans-serif' font-weight="normal" font-size="70.86" fill="#1c1c1c" stroke="#1c1c1c" stroke-width="1.2">6</text></g>
</svg>
</body></html>
